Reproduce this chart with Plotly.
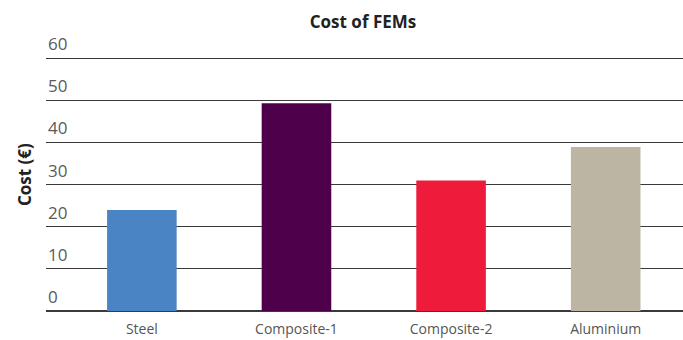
import plotly.graph_objects as go

categories = ["Steel", "Composite-1", "Composite-2", "Aluminium"]
costs = [24, 49.3, 31, 38.9]
bar_colors = ["#4A84C4", "#4E004A", "#EE1B3A", "#BDB5A4"]
y_ticks = [0, 10, 20, 30, 40, 50, 60]
y_tick_labels = [str(v) for v in y_ticks]

fig = go.Figure(go.Bar(x=categories, y=costs, marker=dict(color=bar_colors, line=dict(width=0)), width=0.45))

tick_annotations = [
    dict(text=lab, xref="paper", yref="y", x=0, y=val, xanchor="left", yanchor="bottom",
         showarrow=False, yshift=1, font=dict(size=17, color="#5a5a5a", family="Open Sans"))
    for val, lab in zip(y_ticks, y_tick_labels)
]

fig.update_layout(
    width=683, height=340,
    margin=dict(l=46, r=0, t=38, b=29),
    paper_bgcolor="white", plot_bgcolor="white",
    showlegend=False,
    font=dict(family="Open Sans", color="#555555"),
    title=dict(text="<b>Cost of FEMs</b>", x=363 / 683, xanchor="center", y=1 - 22 / 340, yanchor="middle",
               font=dict(size=17, color="#222222", family="Open Sans")),
    xaxis=dict(range=[-0.62, 3.5], showgrid=False, ticks="", showline=False, automargin=False,
               tickfont=dict(size=14, color="#555555"), ticklabelstandoff=8),
    yaxis=dict(range=[0, 64.8], tickvals=y_ticks, showticklabels=False, automargin=False,
               showgrid=True, gridcolor="#3a3a3a", gridwidth=1,
               zeroline=True, zerolinecolor="#3a3a3a", zerolinewidth=2, showline=False),
    annotations=tick_annotations + [
        dict(text="<b>Cost (€)</b>", xref="paper", yref="paper", x=(24 - 46) / 637, y=(311 - 175) / 273,
             textangle=-90, showarrow=False, xanchor="center", yanchor="middle",
             font=dict(size=17, color="#222222", family="Open Sans"))],
)

fig.write_html("out.html")
